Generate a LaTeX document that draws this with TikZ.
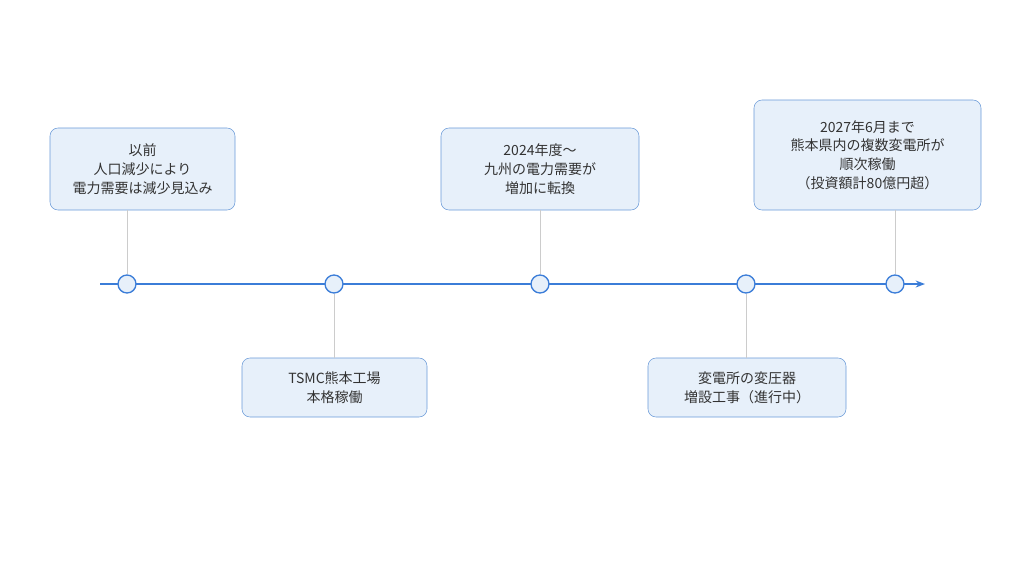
\documentclass[tikz,border=0pt]{standalone}
\usepackage{fontspec}
\setmainfont{Noto Sans CJK JP}
\usetikzlibrary{arrows.meta}
\definecolor{tlblue}{HTML}{3B7DD8}
\definecolor{boxfill}{HTML}{E7F0FA}
\definecolor{boxline}{HTML}{6A9AD8}
\tikzset{
  event/.style={draw=boxline,fill=boxfill,rounded corners=6pt,align=center,
    font=\fontsize{10.5pt}{14pt}\selectfont,text=black!80,inner sep=0pt},
  dot/.style={circle,draw=tlblue,fill=boxfill,line width=1pt,minimum size=13.5pt,inner sep=0pt},
  stem/.style={draw=black!20,line width=0.6pt}
}
\begin{document}
\begin{tikzpicture}[x=0.75pt,y=-0.75pt]
    \useasboundingbox (0,0) rectangle (1024,569);
    \coordinate (s) at (100,284);
    \coordinate (e) at (925,284);
    \draw[-{Stealth[length=7pt,open]},tlblue,line width=1.3pt](s)--(e);
    \node[event,minimum width=138.75pt,minimum height=61.5pt](b1)at(142.5,169){以前\\人口減少により\\電力需要は減少見込み};
    \node[event,minimum width=138.75pt,minimum height=44.25pt](b2)at(334.5,387.5){TSMC熊本工場\\本格稼働};
    \node[event,minimum width=148.5pt,minimum height=61.5pt](b3)at(540,169){2024年度〜\\九州の電力需要が\\増加に転換};
    \node[event,minimum width=148.5pt,minimum height=44.25pt](b4)at(747,387.5){変電所の変圧器\\増設工事（進行中）};
    \node[event,minimum width=170.25pt,minimum height=82.5pt](b5)at(867.5,155){2027年6月まで\\熊本県内の複数変電所が\\順次稼働\\（投資額計80億円超）};
    \node[dot](d1)at(127,284){};
    \node[dot](d2)at(334,284){};
    \node[dot](d3)at(540,284){};
    \node[dot](d4)at(746,284){};
    \node[dot](d5)at(895,284){};
    \draw[stem](b1.south-|d1)--(d1);
    \draw[stem](d2)--(b2.north-|d2);
    \draw[stem](b3.south-|d3)--(d3);
    \draw[stem](d4)--(b4.north-|d4);
    \draw[stem](b5.south-|d5)--(d5);
\end{tikzpicture}
\end{document}
